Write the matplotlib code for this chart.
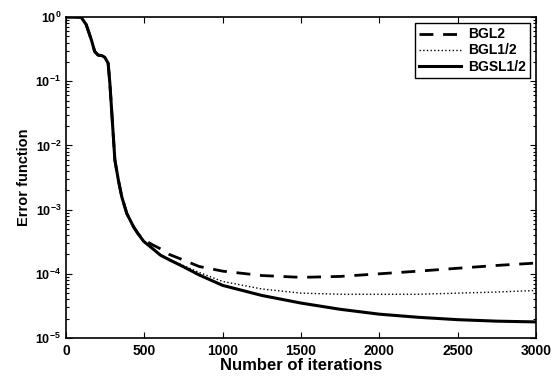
import matplotlib.pyplot as plt
import numpy as np

plt.rcParams['font.family'] = ['Liberation Sans', 'DejaVu Sans']
plt.rcParams['font.weight'] = 'bold'

iters = [0, 50, 97, 129, 162, 183, 205, 230, 248, 269, 280, 291, 302, 312,
         334, 356, 388, 431, 460, 496, 550, 603, 660, 733, 850, 1000, 1250,
         1500, 1750, 2000, 2250, 2500, 2750, 3000]
early = [1.0, 1.0, 0.99, 0.76, 0.44, 0.29, 0.255, 0.25, 0.235, 0.19, 0.093,
         0.036, 0.014, 5.9e-3, 2.9e-3, 1.58e-3, 8.7e-4, 5.4e-4, 4.2e-4]
bgl2 = early + [3.4e-4, 2.85e-4, 2.45e-4, 2.0e-4, 1.7e-4, 1.3e-4, 1.1e-4,
                9.4e-5, 8.8e-5, 9.1e-5, 1.0e-4, 1.1e-4, 1.22e-4, 1.35e-4,
                1.47e-4]
bgl12 = early + [3.2e-4, 2.5e-4, 1.98e-4, 1.67e-4, 1.4e-4, 1.05e-4, 7.6e-5,
                 5.8e-5, 5.0e-5, 4.8e-5, 4.8e-5, 4.8e-5, 5.0e-5, 5.2e-5,
                 5.5e-5]
bgsl12 = early + [3.2e-4, 2.5e-4, 1.95e-4, 1.65e-4, 1.35e-4, 9.6e-5, 6.6e-5,
                  4.6e-5, 3.5e-5, 2.8e-5, 2.35e-5, 2.1e-5, 1.93e-5, 1.83e-5,
                  1.78e-5]

fig = plt.figure(figsize=(5.53, 3.78), dpi=100)
ax = fig.add_axes([66/553, 40/378, 470/553, 321/378])

ax.semilogy(iters, bgl2, 'k--', linewidth=2, dashes=(5, 3.5), label='BGL2')
ax.semilogy(iters, bgl12, 'k:', linewidth=1, label='BGL1/2')
ax.semilogy(iters, bgsl12, 'k-', linewidth=2.2, label='BGSL1/2')

ax.set_xlim(0, 3000)
ax.set_ylim(1e-5, 1)
ax.set_xticks(np.arange(0, 3001, 500))
ax.set_yticks([1e-5, 1e-4, 1e-3, 1e-2, 1e-1, 1])
ax.tick_params(which='both', direction='in', top=True, right=True, width=0.8)
ax.tick_params(axis='x', labelsize=10, pad=4)
ax.tick_params(axis='y', labelsize=9)
ax.tick_params(which='major', length=4)
ax.tick_params(which='minor', length=2)
for lbl in ax.get_xticklabels() + ax.get_yticklabels():
    lbl.set_fontweight('bold')

ax.set_xlabel('Number of iterations', fontsize=12, fontweight='bold', labelpad=0)
ax.set_ylabel('Error function', fontsize=10.5, fontweight='bold', labelpad=3)

leg = ax.legend(loc='upper right', fontsize=10, fancybox=False, framealpha=1,
                edgecolor='k', borderaxespad=0.45, handlelength=3.0,
                labelspacing=0.15, borderpad=0.3, handletextpad=0.5)
leg.get_frame().set_linewidth(1)
for t in leg.get_texts():
    t.set_fontweight('bold')

for s in ax.spines.values():
    s.set_linewidth(1.2)

fig.savefig('out.png', dpi=100)
